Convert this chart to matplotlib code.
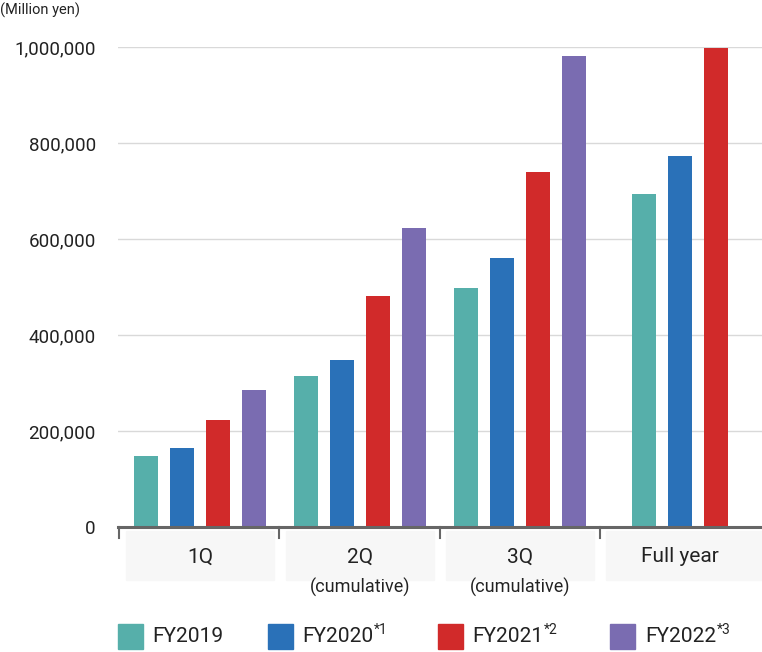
import matplotlib
matplotlib.use("Agg")
import matplotlib.pyplot as plt
from matplotlib.patches import Rectangle

categories = ["1Q", "2Q", "3Q", "Full year"]
sublabels = ["", "(cumulative)", "(cumulative)", ""]
series = ["FY2019", "FY2020", "FY2021", "FY2022"]
sups = ["", "*1", "*2", "*3"]
fy2019 = [148000, 315000, 498000, 694000]
fy2020 = [165000, 348000, 560000, 773000]
fy2021 = [223000, 481000, 740000, 998000]
fy2022 = [285000, 623000, 981000, None]
values = [fy2019, fy2020, fy2021, fy2022]
colors = ["#56afaa", "#2a71b8", "#d12a2a", "#7a6cb1"]
yticks = [0, 200000, 400000, 600000, 800000, 1000000]

W, H = 762, 652
fig = plt.figure(figsize=(W/100, H/100), dpi=100)
plt.rcParams["font.family"] = "Roboto"
ax = fig.add_axes([118/W, 1-527/H, (W-118)/W, (527-47)/H])
ax.set_xlim(118, 762)
ax.set_ylim(0, 1000000)
centers = [200, 360, 520, 680]
bw, step = 24, 36
for gi, c in enumerate(centers):
    present = [si for si in range(4) if values[si][gi] is not None]
    n = len(present)
    for k, si in enumerate(present):
        x = c + (k - (n-1)/2) * step
        ax.bar(x, values[si][gi], width=bw, color=colors[si], zorder=3)
for s in ax.spines.values():
    s.set_visible(False)
ax.set_yticks(yticks)
ax.set_yticklabels([f"{v:,}" for v in yticks], fontsize=13.5, color="#222")
ax.tick_params(axis="y", length=0, pad=16)
ax.set_xticks([])
ax.grid(axis="y", color="#d9d9d9", lw=1, zorder=0)
ax.set_axisbelow(True)

o = fig.add_axes([0, 0, 1, 1]); o.set_xlim(0, W); o.set_ylim(H, 0); o.axis("off")
o.plot([118, 762], [527, 527], color="#666", lw=2.2)
for x in [119, 279, 440, 600]:
    o.plot([x, x], [527, 538], color="#666", lw=1.5)
for (x0, x1), c, lab, sub in zip([(126, 274), (286, 434), (446, 594), (606, 762)], centers, categories, sublabels):
    o.add_patch(Rectangle((x0, 531), x1-x0, 49, color="#f7f7f7", zorder=0))
    o.text(c, 557, lab, ha="center", va="center", fontsize=15, color="#222")
    if sub:
        o.text(c, 587, sub, ha="center", va="center", fontsize=13, color="#222")
o.text(0, 10, "(Million yen)", ha="left", va="center", fontsize=10.5, color="#222")
for (sx, tx), name, sp, col in zip([(118, 152), (268, 302), (438, 472), (610, 645)], series, sups, colors):
    o.add_patch(Rectangle((sx, 624), 25, 25, color=col))
    t = o.text(tx, 637, name, ha="left", va="center", fontsize=15, color="#222")
    if sp:
        fig.canvas.draw()
        bb = t.get_window_extent()
        o.text(bb.x1*W/fig.bbox.width + 1, 630, sp, ha="left", va="center", fontsize=10, color="#222")
fig.savefig("out.png", dpi=100)
